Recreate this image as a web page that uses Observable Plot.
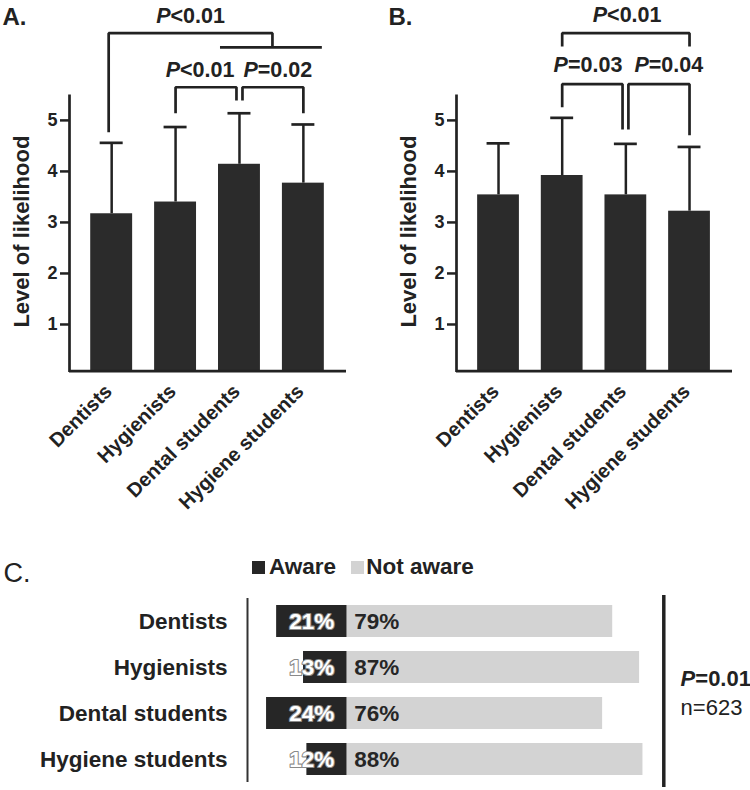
<!DOCTYPE html>
<html><head><meta charset="utf-8">
<script src="https://cdn.jsdelivr.net/npm/d3@7"></script>
<script src="https://cdn.jsdelivr.net/npm/@observablehq/plot@0.6"></script>
<style>
body{margin:0;background:#fff;}
#wrap{position:relative;width:750px;height:790px;overflow:hidden;font-family:"Liberation Sans",Arial,Helvetica,sans-serif;color:#222;background:#fff;}
.panel{position:absolute;}
.legend{position:absolute;left:252px;top:554px;height:26px;display:flex;align-items:center;font-size:22.5px;font-weight:bold;line-height:26px;color:#222;}
.sw{display:inline-block;width:13px;height:13px;}
</style></head><body><div id="wrap"></div>
<script>
// ---------- data ----------
const groups = ["Dentists", "Hygienists", "Dental students", "Hygiene students"];
const meanA = [3.17, 3.40, 4.14, 3.77];
const sdA   = [1.39, 1.47, 1.00, 1.15];
const meanB = [3.54, 3.92, 3.54, 3.22];
const sdB   = [1.01, 1.13, 1.00, 1.26];
const yTicks = [1, 2, 3, 4, 5];
const awarePct    = [21, 13, 24, 12];
const notAwarePct = [79, 87, 76, 88];
const legendLabels = ["Aware", "Not aware"];
const statLabel = "P=0.01";
const nLabel = "n=623";
const yLabel = "Level of likelihood";

// significance annotations (x in group index units, y in likelihood units)
const bracketsA = [
  {x1: -0.047, x2: 2.516, yTop: 6.71, yL: 4.77, yR: 6.44},
  {x1: 1.0, x2: 1.953, yTop: 5.65, yL: 5.14, yR: 5.39},
  {x1: 2.047, x2: 3.0, yTop: 5.65, yL: 5.39, yR: 5.14}
];
const subBarsA = [{x1: 1.703, x2: 3.297, y: 6.43}];
const pLabelsA = [
  {x: 1.234, y: 6.90, text: "P<0.01"},
  {x: 1.383, y: 5.85, text: "P<0.01"},
  {x: 2.60, y: 5.85, text: "P=0.02"}
];
const bracketsB = [
  {x1: 1.0, x2: 3.0, yTop: 6.71, yL: 6.45, yR: 6.45},
  {x1: 1.0, x2: 1.948, yTop: 5.71, yL: 5.26, yR: 4.82},
  {x1: 2.04, x2: 3.0, yTop: 5.71, yL: 4.82, yR: 4.71}
];
const pLabelsB = [
  {x: 2.02, y: 6.92, text: "P<0.01"},
  {x: 1.405, y: 5.95, text: "P=0.03"},
  {x: 2.675, y: 5.95, text: "P=0.04"}
];
const yLabelPos = [{text: yLabel, y: 2.82}];

// ---------- styles ----------
const INK = "#222";
const BAR = "#2b2b2b";
const DARK = "#262626";
const LIGHT = "#d3d3d3";
const FONT = '"Liberation Sans", Arial, Helvetica, sans-serif';
const X_DOMAIN = [-0.66, 3.675];
const Y_DOMAIN = [0, 7.35];
const Y_BASE = 0.085, Y_TOP = 5.5;
const LW = 2.7;

function italicP(svg) {
  const ns = "http://www.w3.org/2000/svg";
  for (const t of svg.querySelectorAll("text")) {
    if (t.children.length) continue;
    const m = t.textContent.match(/^P([<=].*)$/);
    if (m) {
      t.textContent = "";
      const ts = document.createElementNS(ns, "tspan");
      ts.setAttribute("font-style", "italic");
      ts.textContent = "P";
      t.append(ts, document.createTextNode(m[1]));
    }
  }
}

function barPanel({means, sds, brackets, subBars, pLabels, letter, letterX, width, marginLeft, marginRight}) {
  const rows = groups.map((g, i) => ({i, group: g, mean: means[i], hi: means[i] + sds[i]}));
  const pts = brackets.flatMap((b, k) => [
    {id: k, x: b.x1, y: b.yL}, {id: k, x: b.x1, y: b.yTop},
    {id: k, x: b.x2, y: b.yTop}, {id: k, x: b.x2, y: b.yR}
  ]);
  return Plot.plot({
    width, height: 540, marginLeft, marginRight, marginTop: 0, marginBottom: 165,
    x: {type: "linear", domain: X_DOMAIN, axis: null, label: null},
    y: {domain: Y_DOMAIN, label: null},
    style: {fontFamily: FONT, color: INK, background: "white", overflow: "visible"},
    marks: [
      Plot.ruleX(rows, {x: "i", y1: "mean", y2: "hi", stroke: INK, strokeWidth: 2.5}),
      Plot.ruleY(rows, {x1: d => d.i - 0.18, x2: d => d.i + 0.18, y: "hi", stroke: INK, strokeWidth: LW}),
      Plot.rectY(rows, {x1: d => d.i - 0.328, x2: d => d.i + 0.328, y1: Y_BASE, y2: "mean", fill: BAR}),
      Plot.ruleX([X_DOMAIN[0]], {y1: Y_BASE - 0.027, y2: Y_TOP, stroke: INK, strokeWidth: LW}),
      Plot.ruleY([Y_BASE], {x1: X_DOMAIN[0], x2: X_DOMAIN[1], stroke: INK, strokeWidth: LW}),
      Plot.axisY(yTicks, {tickSize: 9, tickPadding: 3, tickFormat: d => String(d), fontSize: 18, fontWeight: "bold", strokeWidth: 2.5, label: null}),
      Plot.text(rows, {x: "i", y: Y_BASE, text: "group", rotate: -45, textAnchor: "end", lineAnchor: "middle",
        dx: -3, dy: 17, fontSize: 20, fontWeight: "bold", fill: INK}),
      Plot.text(yLabelPos, {text: "text", y: "y", frameAnchor: "left", textAnchor: "middle", lineAnchor: "middle",
        dx: -48, rotate: -90, fontSize: 22, fontWeight: "bold", fill: INK}),
      Plot.line(pts, {x: "x", y: "y", z: "id", stroke: INK, strokeWidth: LW, strokeLinejoin: "miter", strokeLinecap: "butt"}),
      Plot.ruleY(subBars, {x1: "x1", x2: "x2", y: "y", stroke: INK, strokeWidth: LW}),
      Plot.text(pLabels, {x: "x", y: "y", text: "text", lineAnchor: "bottom", fontSize: 21.5, fontWeight: "bold", fill: INK}),
      Plot.text([letter], {text: d => d, frameAnchor: "top-left", dx: letterX - marginLeft, dy: 7,
        lineAnchor: "top", textAnchor: "start", fontSize: 24, fontWeight: "bold", fill: INK})
    ]
  });
}

const wrap = document.getElementById("wrap");

const pa = barPanel({means: meanA, sds: sdA, brackets: bracketsA, subBars: subBarsA, pLabels: pLabelsA,
  letter: "A.", letterX: 2, width: 370, marginLeft: 69, marginRight: 24});
const pb = barPanel({means: meanB, sds: sdB, brackets: bracketsB, subBars: [], pLabels: pLabelsB,
  letter: "B.", letterX: 18, width: 380, marginLeft: 86, marginRight: 18});

const rowsC = groups.map((g, k) => ({group: g, aware: awarePct[k], notAware: notAwarePct[k]}));
const XC = [-29.67, 120];
const pc = Plot.plot({
  width: 750, height: 250, marginLeft: 247, marginRight: 0, marginTop: 58, marginBottom: 8,
  x: {domain: XC, axis: null, label: null},
  y: {type: "band", domain: groups, paddingInner: 0.31, paddingOuter: 0.15, label: null},
  style: {fontFamily: FONT, color: INK, background: "white", overflow: "visible"},
  marks: [
    Plot.barX(rowsC, {y: "group", x1: d => -d.aware, x2: 0, fill: DARK}),
    Plot.barX(rowsC, {y: "group", x1: 0, x2: "notAware", fill: LIGHT}),
    Plot.text(rowsC, {y: "group", x: 0, text: d => d.aware + "%", textAnchor: "end", dx: -13,
      fill: "white", stroke: "#8a8a8a", strokeWidth: 2.2, paintOrder: "stroke", fontSize: 22.5, fontWeight: "bold"}),
    Plot.text(rowsC, {y: "group", x: 0, text: d => d.notAware + "%", textAnchor: "start", dx: 7,
      fill: DARK, fontSize: 22.5, fontWeight: "bold"}),
    Plot.axisY({tickSize: 0, tickPadding: 20, fontSize: 22.5, fontWeight: "bold", label: null}),
    Plot.ruleX([XC[0]], {stroke: "#333", strokeWidth: 2}),
    Plot.ruleX([94.2], {stroke: INK, strokeWidth: 3.5, insetTop: -3, insetBottom: -5}),
    Plot.text([statLabel], {text: d => d, x: 99.2, textAnchor: "start", dy: -12, fontSize: 22, fontWeight: "bold", fill: INK}),
    Plot.text([nLabel], {text: d => d, x: 99.2, textAnchor: "start", dy: 17, fontSize: 22, fontWeight: "normal", fill: INK}),
    Plot.text(["C."], {text: d => d, frameAnchor: "top-left", dx: -244, dy: -36, lineAnchor: "top",
      textAnchor: "start", fontSize: 27, fontWeight: "normal", fill: INK})
  ]
});

function place(el, left, top) {
  const d = document.createElement("div");
  d.className = "panel";
  d.style.left = left + "px";
  d.style.top = top + "px";
  d.appendChild(el);
  wrap.appendChild(d);
  italicP(el);
}
place(pa, 0, 0);
place(pb, 370, 0);
place(pc, 0, 540);

// legend
const lg = document.createElement("div");
lg.className = "legend";
const colors = [DARK, LIGHT];
legendLabels.forEach((lab, k) => {
  const sw = document.createElement("span");
  sw.className = "sw";
  sw.style.background = colors[k];
  sw.style.marginLeft = k === 0 ? "0px" : "15px";
  sw.style.marginRight = k === 0 ? "4px" : "2px";
  const tx = document.createElement("span");
  tx.textContent = lab;
  lg.append(sw, tx);
});
wrap.appendChild(lg);
</script>
</body></html>
